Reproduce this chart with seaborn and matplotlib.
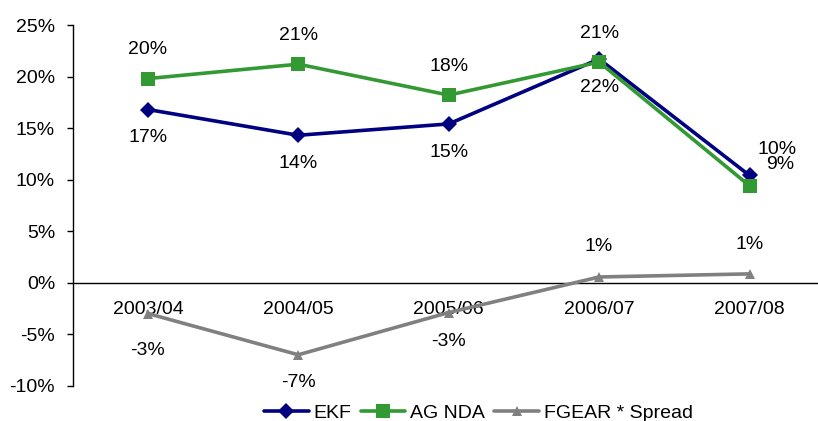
import matplotlib
matplotlib.use("Agg")
import matplotlib.pyplot as plt
import seaborn as sns
import numpy as np
from matplotlib.ticker import FuncFormatter, FixedLocator

# Financial years on the category axis
years = ["2003/04", "2004/05", "2005/06", "2006/07", "2007/08"]

# Series values (fractions)
ekf = [0.168, 0.143, 0.154, 0.217, 0.104]
ag_nda = [0.198, 0.212, 0.182, 0.214, 0.094]
fgear_spread = [-0.030, -0.070, -0.029, 0.0055, 0.0085]

series_names = ["EKF", "AG NDA", "FGEAR * Spread"]
series_values = [ekf, ag_nda, fgear_spread]
colors = ["#000080", "#339933", "#808080"]
markers = ["D", "s", "^"]
marker_sizes = [8.5, 10, 7.5]

# Value label offsets in pixels (dx, dy)
label_offsets = [
    [(0, -28), (0, -28), (0, -29), (0, -28), (28, 26)],
    [(0, 29), (0, 29), (0, 29), (0, 29), (31, 21)],
    [(0, -37), (0, -28), (0, -29), (0, 30), (0, 29)],
]

sns.set_theme(style="white")
plt.rcParams["font.family"] = ["Liberation Sans", "DejaVu Sans"]
plt.rcParams["text.color"] = "black"
plt.rcParams["xtick.color"] = "black"
plt.rcParams["ytick.color"] = "black"
FS = 14

fig = plt.figure(figsize=(8.18, 4.21), dpi=100)
ax = fig.add_axes([72.7 / 818, 1 - 385.7 / 421, 752 / 818, (385.7 - 25) / 421])

x = np.arange(len(years))
for name, vals, col, mk, ms in zip(series_names, series_values, colors, markers, marker_sizes):
    sns.lineplot(x=x, y=vals, ax=ax, color=col, marker=mk, markersize=ms,
                 markeredgecolor=col, markeredgewidth=0, linewidth=2.6,
                 label=name, zorder=3)

for vals, offs in zip(series_values, label_offsets):
    for xi, v, (dx, dy) in zip(x, vals, offs):
        ax.annotate(f"{v:.0%}", (xi, v), xytext=(dx, dy), textcoords="offset pixels",
                    ha="center", va="center", fontsize=FS, color="black", zorder=4)

ax.set_xlim(-0.5, 4.5)
ax.set_ylim(-0.10, 0.25)
ax.set_yticks(np.arange(-0.10, 0.2501, 0.05))
ax.yaxis.set_major_formatter(FuncFormatter(lambda v, p: f"{v:.0%}"))

ax.set_xticks(x)
ax.set_xticklabels(years)
ax.xaxis.set_minor_locator(FixedLocator([0.5, 1.5, 2.5, 3.5]))

for s in ["top", "right"]:
    ax.spines[s].set_visible(False)
ax.spines["bottom"].set_position(("data", 0))
for s in ["left", "bottom"]:
    ax.spines[s].set_color("black")
    ax.spines[s].set_linewidth(1.0)

ax.tick_params(axis="x", which="major", length=0, pad=13.5, labelsize=FS,
               colors="black", labelcolor="black")
ax.tick_params(axis="x", which="minor", length=4.3, width=1.0, direction="out", color="black")
ax.tick_params(axis="y", which="major", length=4.3, width=1.0, direction="out",
               pad=8.4, labelsize=FS, left=True, colors="black", labelcolor="black")
ax.set_xlabel("")
ax.set_ylabel("")
ax.grid(False)

leg = ax.legend(loc="center", bbox_to_anchor=(478.5 / 818, 1 - 413 / 421),
                bbox_transform=fig.transFigure, ncol=3, frameon=False, fontsize=FS,
                handlelength=2.3, handletextpad=0.26, columnspacing=0.46,
                borderpad=0, borderaxespad=0, numpoints=1)
for t in leg.get_texts():
    t.set_color("black")

fig.savefig("out.png", dpi=100)
